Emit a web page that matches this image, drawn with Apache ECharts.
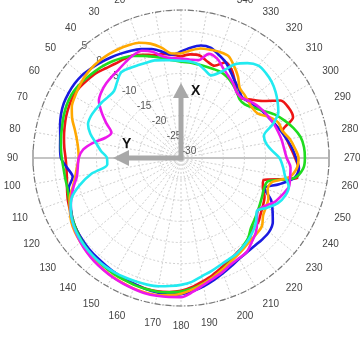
<!DOCTYPE html>
<html><head><meta charset="utf-8">
<script src="https://cdn.jsdelivr.net/npm/echarts@6/dist/echarts.min.js"></script>
<style>html,body{margin:0;padding:0;background:#fff}#c{width:360px;height:337px}</style>
</head><body><div id="c"></div>
<script>
// angle (deg, 0 at top, counter-clockwise)
const angles = [0,5,10,15,20,25,30,35,40,45,50,55,60,65,70,75,80,85,90,95,100,105,110,115,120,125,130,135,140,145,150,155,160,165,170,175,180,185,190,195,200,205,210,215,220,225,230,235,240,245,250,255,260,265,270,275,280,285,290,295,300,305,310,315,320,325,330,335,340,345,350,355];
// gains (dB)
const red = [-6,-5.5,-5,-4.8,-4,-3.2,-3,-2.8,-2.3,-1.6,-1.2,-0.8,-0.6,-0.8,-1.1,-1.5,-1.9,-2.3,-2.7,-2.8,-2.6,-2.1,-1.5,-1,-0.4,0,0.5,0.8,1.1,1.3,1.5,1.7,1.8,2,2,1.8,1.4,0.6,-0.4,-1.3,-2.3,-3.2,-3.9,-4.4,-4.8,-6.3,-6.2,-7,-7.6,-8.2,-9.4,-9.8,-2.3,-2.1,-3,-3.9,-4.6,-5.1,-1.8,-1.9,-2.8,-6.5,-8.5,-10,-9.5,-7.8,-6,-5,-6.8,-6.3,-5.3,-5.4];
const blue = [-4.8,-5.5,-4.5,-3.3,-2.6,-2,-1.5,-1,-0.5,0,0.5,0.7,0.7,0.6,0.2,-0.4,-1,-1.3,-1.6,-3,-4,-2.5,-2.2,-1.3,-0.5,0,0.3,0.6,0.8,1,1.3,1.6,1.8,2.1,2.3,2.4,2.2,1.6,0.8,-0.1,-1,-1.8,-2.5,-2.8,-2.9,-2.8,-2.8,-3.5,-5,-6.5,-9,-6,-2.8,-2,-2.8,-3.6,-4.6,-5.5,-6.4,-7.2,-7.8,-8.5,-9.2,-9.6,-8.7,-7.8,-6.5,-5,-4,-3,-3,-3.8];
const green = [-7.2,-6.8,-6,-5.2,-4.3,-3.4,-2.6,-2,-1.5,-1.1,-0.7,-0.3,-0.1,-0.2,-0.5,-0.9,-1.2,-1.5,-1.8,-2.1,-2.2,-2.2,-1.8,-1.2,-0.5,0.1,0.6,1,1.3,1.5,1.7,1.8,2,2.1,2.1,1.9,1.6,1,0.2,-0.8,-1.8,-2.8,-3.6,-4.5,-5.3,-6.6,-7.3,-7.9,-8.4,-8.8,-9.1,-8.7,-2.8,-1,-0.7,-0.8,-1.3,-2.5,-4,-5.6,-7.6,-9.2,-10.3,-10.4,-9.5,-8.7,-8,-7.6,-7.6,-7.6,-7.5,-7.3];
const orange = [-5.3,-5.2,-3.5,-2,-1,-0.6,-0.3,-0.1,0,0,-0.2,-0.6,-1,-1.5,-2.6,-4,-5,-5.6,-5.8,-5.3,-4.6,-3.5,-2,-1,0,0.6,1,1.4,1.8,2.1,2.4,2.6,2.8,2.9,2.9,2.6,2.1,1.2,0.2,-0.8,-1.8,-2.7,-3.4,-4,-4.5,-4.7,-5,-6.3,-6.8,-7.2,-8.2,-7.8,-4,-2.5,-2.2,-3,-3.9,-5.2,-5.5,-7,-9,-9.4,-9.2,-8.8,-8.4,-6.5,-4.9,-3.4,-3.3,-3.5,-3.7,-4.5];
const magenta = [-6.5,-6.3,-5.6,-4,-3,-3.2,-3.8,-4.4,-4.7,-5,-5.5,-6.3,-8.3,-10.5,-12.5,-11.5,-9,-6.8,-5.8,-5.5,-5,-3.7,-2.4,-1.2,-0.3,0.4,1,1.5,1.9,2.2,2.5,2.7,2.9,3.1,3.1,3,2.9,1.8,0.5,-0.5,-1.3,-2.2,-2.6,-2.9,-4,-5,-6.5,-8,-7.2,-5.5,-4.5,-3.6,-3.8,-4,-5,-5.5,-5.8,-6.2,-6.6,-7.1,-7.6,-8.2,-9,-9.8,-9.6,-8.5,-7.6,-6.5,-5,-4.5,-6.5,-6.6];
const cyan = [-7,-6.8,-6.5,-6.1,-6,-5.8,-5.5,-5.3,-6.5,-7.6,-7.5,-7.1,-6.8,-6.5,-6.6,-7.8,-9.6,-11,-12.5,-12.5,-8.5,-5.2,-2.5,-1.2,-0.3,0.3,0.7,1,1.2,1.3,1.3,1.2,1.1,1,0.8,0.4,0,-0.6,-1.6,-2.3,-3,-3.5,-3.8,-4.4,-5,-5.8,-6.8,-8.1,-6.5,-4.7,-3.8,-3.6,-5,-5.8,-6.7,-8.5,-9.6,-9.7,-7,-4.6,-3.6,-2.7,-2,-1.6,-1.5,-2.6,-4.4,-7.5,-9.2,-8.4,-7.4,-7.1];
const radiusTicks = [-30,-25,-20,-15,-10,-5,0,5];
const angleStep = 10;

const seriesDefs = [
  {name:'red', vals:red, color:'#ee1515'},
  {name:'blue', vals:blue, color:'#1a1ae0'},
  {name:'green', vals:green, color:'#1fdc1f'},
  {name:'orange', vals:orange, color:'#ffa800'},
  {name:'magenta', vals:magenta, color:'#ec18ec'},
  {name:'cyan', vals:cyan, color:'#22eaf0'}
];

const CX = 181, CY = 158, R = 148;
const rMin = radiusTicks[0], rMax = radiusTicks[radiusTicks.length-1];
const rInt = radiusTicks[1]-radiusTicks[0];
const font = '"Liberation Sans", Arial, sans-serif';

const chart = echarts.init(document.getElementById('c'), null, {renderer:'canvas'});

const series = seriesDefs.map(s => {
  const data = angles.map((a,i)=>[s.vals[i], a]);
  data.push([s.vals[0], 360]);
  return {
    name: s.name, type:'line', coordinateSystem:'polar', polarIndex:0,
    data, showSymbol:false, symbol:'none', smooth:0.3,
    lineStyle:{color:s.color, width:2.6}, itemStyle:{color:s.color},
    z: 3
  };
});

const shaftColor = '#a8a8a8';
const option = {
  animation:false,
  backgroundColor:'#fff',
  polar:[
    {center:[CX,CY], radius:R},
    // label-only polar: radius tick labels run beside the 45° spoke
    {center:[CX+8,CY-7], radius:R}
  ],
  angleAxis:[
    {
      polarIndex:0, type:'value', min:0, max:360, interval:angleStep,
      startAngle:90, clockwise:false,
      axisLine:{show:true, lineStyle:{color:'#777', width:1.2, type:[6,2,1,2]}},
      axisTick:{show:false},
      axisLabel:{show:true, margin:15, color:'#444', fontSize:10, fontFamily:font,
        formatter: v => (v>=360 ? '' : String(v))},
      splitLine:{show:true, lineStyle:{color:'#cfcfcf', width:1, type:[2,2]}}
    },
    {
      polarIndex:1, type:'value', min:0, max:360, startAngle:135, clockwise:false, show:false
    }
  ],
  radiusAxis:[
    {
      polarIndex:0, type:'value', min:rMin, max:rMax, interval:rInt,
      axisLine:{show:false}, axisTick:{show:false}, axisLabel:{show:false},
      splitLine:{show:true, lineStyle:{color:'#d0d0d0', width:1, type:[2,2]}}
    },
    {
      polarIndex:1, type:'value', min:rMin, max:rMax, interval:rInt,
      axisLine:{show:false}, axisTick:{show:false}, splitLine:{show:false},
      axisLabel:{show:true, margin:0, color:'#555', fontSize:10, fontFamily:font,
        align:'center', verticalAlign:'middle'}
    }
  ],
  graphic:[
    // horizontal reference line through the centre
    {type:'line', shape:{x1:CX-R, y1:CY, x2:CX+R, y2:CY}, style:{stroke:'#c4c4c4', lineWidth:2}, z:1},
    {type:'line', shape:{x1:CX-R, y1:CY-8, x2:CX-R, y2:CY+8}, style:{stroke:'#b0b0b0', lineWidth:2}, z:1},
    {type:'line', shape:{x1:CX+R, y1:CY-8, x2:CX+R, y2:CY+8}, style:{stroke:'#b0b0b0', lineWidth:2}, z:1},
    // X arrow
    {type:'rect', shape:{x:CX-2.5, y:CY-62, width:5, height:64}, style:{fill:shaftColor}, z:2},
    {type:'polygon', shape:{points:[[CX-8,CY-60],[CX+8,CY-60],[CX,CY-75]]}, style:{fill:shaftColor}, z:2},
    {type:'text', x:CX+10, y:CY-74, style:{text:'X', fill:'#111', font:'bold 14px '+font}, z:2},
    // Y arrow
    {type:'rect', shape:{x:CX-54, y:CY-2.5, width:56, height:5}, style:{fill:shaftColor}, z:2},
    {type:'polygon', shape:{points:[[CX-52,CY-8],[CX-52,CY+8],[CX-68,CY]]}, style:{fill:shaftColor}, z:2},
    {type:'text', x:CX-59, y:CY-21, style:{text:'Y', fill:'#111', font:'bold 14px '+font}, z:2}
  ],
  series
};
chart.setOption(option);
</script></body></html>
